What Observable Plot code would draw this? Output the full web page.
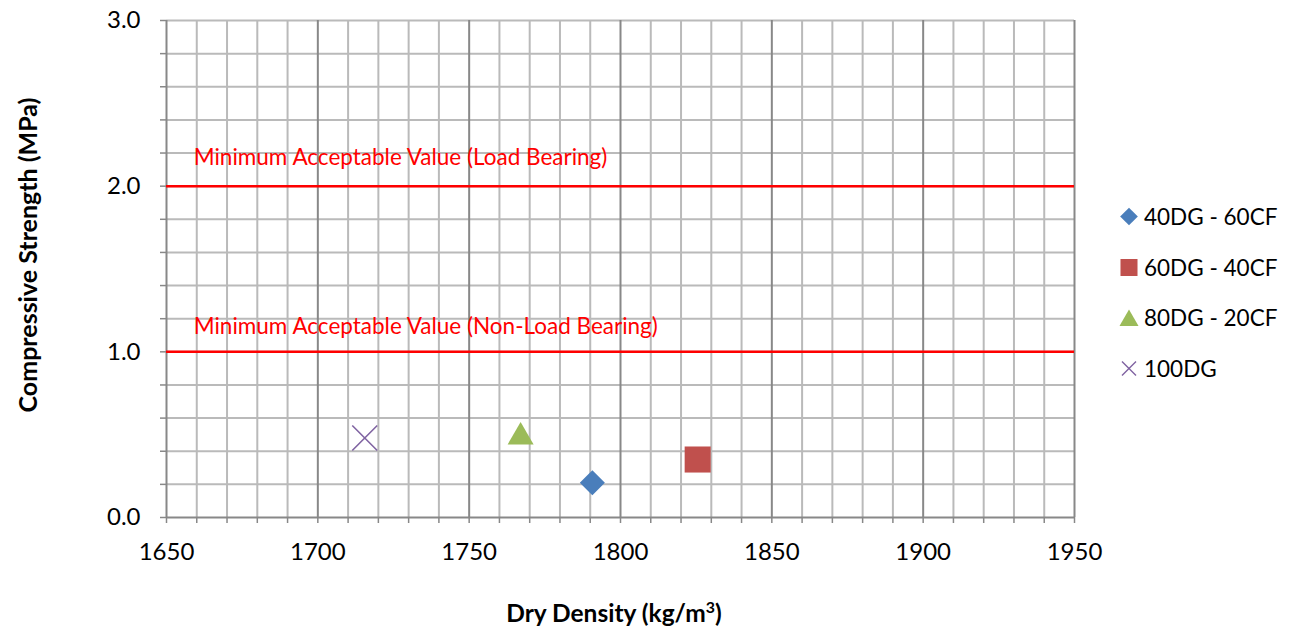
<!DOCTYPE html>
<html>
<head>
<meta charset="utf-8">
<script src="https://cdn.jsdelivr.net/npm/d3@7"></script>
<script src="https://cdn.jsdelivr.net/npm/@observablehq/plot@0.6"></script>
<style>
  html, body { margin: 0; padding: 0; background: #fff; }
  #wrap { position: relative; width: 1294px; height: 628px; font-family: Lato, "Open Sans", sans-serif; }
  #wrap svg.plot { position: absolute; left: 0; top: 0; }
  .ytitle { position: absolute; left: 27px; top: 255px; transform: translate(-50%, -50%) rotate(-90deg); font-weight: bold; font-size: 25px; white-space: nowrap; color: #000; }
  .xtitle { position: absolute; left: 614px; top: 612px; transform: translate(-50%, -50%); font-weight: bold; font-size: 24.5px; white-space: nowrap; color: #000; }
  .legend { position: absolute; left: 1118px; top: 0; }
  .legend .item { position: absolute; left: 0; display: flex; align-items: center; white-space: nowrap; font-size: 22.5px; color: #000; transform: translateY(-50%); }
  .legend svg { margin-right: 4px; }
</style>
</head>
<body>
<div id="wrap"></div>
<script>
// ---- data ----
const seriesNames = ["40DG - 60CF", "60DG - 40CF", "80DG - 20CF", "100DG"];
const dryDensity = [1790.7, 1825.5, 1767.0, 1715.5];
const compressiveStrength = [0.21, 0.35, 0.51, 0.48];
const seriesColors = ["#4A7EBB", "#C0504D", "#9BBB59", "#8064A2"];
const seriesSymbols = ["diamond2", "square", "triangle2", "times"];

const thresholdValues = [2.0, 1.0];
const thresholdLabels = ["Minimum Acceptable Value (Load Bearing)", "Minimum Acceptable Value (Non-Load Bearing)"];
const thresholdLabelY = [2.17, 1.15];
const thresholdLabelX = [1659, 1659];

const xTicks = d3.range(1650, 1951, 10);
const yTicks = d3.range(0, 16).map(i => i / 5);

// ---- styles ----
const symbolR = {"diamond2": 11.3, "square": 14.7, "triangle2": 12.4, "times": 11.4};
const symbolDy = {"diamond2": 0, "square": 0, "triangle2": 4, "times": 0};

const points = seriesNames.map((name, i) => ({
  name, x: dryDensity[i], y: compressiveStrength[i], color: seriesColors[i], symbol: seriesSymbols[i]
}));
const thresholds = thresholdValues.map((v, i) => ({v, label: thresholdLabels[i], lx: thresholdLabelX[i], ly: thresholdLabelY[i]}));

const minorX = xTicks.filter(d => d % 50 !== 0);
const majorX = xTicks.filter(d => d % 50 === 0);

const marks = [
  Plot.ruleY(yTicks.filter(d => d > 0), {y: d => d, stroke: "#bababa", strokeWidth: 2}),
  Plot.ruleX(minorX, {x: d => d, stroke: "#bababa", strokeWidth: 2}),
  Plot.ruleX(majorX, {x: d => d, stroke: "#888888", strokeWidth: 2}),
  Plot.ruleY([0], {y: d => d, stroke: "#888888", strokeWidth: 2}),
  Plot.ruleY(thresholds, {y: "v", stroke: "#ff0000", strokeWidth: 2.5}),
  Plot.text(thresholds, {x: "lx", y: "ly", text: "label", fill: "#ff0000", textAnchor: "start", fontSize: 22.5, lineAnchor: "middle"}),
  ...points.map(p => Plot.dot([p], {
    x: "x", y: "y", symbol: d => d.symbol, r: symbolR[p.symbol], dy: symbolDy[p.symbol],
    ...(p.symbol === "times" ? {stroke: p.color, strokeWidth: 1.6, fill: "none"} : {fill: p.color, stroke: "none"})
  })),
  Plot.axisX({ticks: xTicks, tickSize: 6, tickPadding: 19, tickFormat: d => d % 50 === 0 ? String(d) : "",
    stroke: "#888888", strokeWidth: 1.5, fill: "#000", fontSize: 24}),
  Plot.axisY({ticks: yTicks, tickSize: 6, tickPadding: 20, tickFormat: d => Math.abs(d - Math.round(d)) < 1e-9 ? d.toFixed(1) : "",
    stroke: "#888888", strokeWidth: 1.5, fill: "#000", fontSize: 24})
];

const chart = Plot.plot({
  width: 1294, height: 628,
  marginLeft: 166, marginRight: 220, marginTop: 20, marginBottom: 111,
  x: {domain: [1650, 1950], axis: null},
  y: {domain: [0, 3], axis: null},
  symbol: {type: "identity"},
  style: {fontFamily: "Lato, 'Open Sans', sans-serif", fontSize: "22px", background: "#fff", color: "#000", overflow: "visible"},
  marks
});
chart.classList.add("plot");

const wrap = document.getElementById("wrap");
wrap.appendChild(chart);

const yt = document.createElement("div");
yt.className = "ytitle";
yt.textContent = "Compressive Strength (MPa)";
wrap.appendChild(yt);

const xt = document.createElement("div");
xt.className = "xtitle";
xt.innerHTML = "Dry Density (kg/m<sup style='font-size:0.65em;vertical-align:0.55em;line-height:0'>3</sup>)";
wrap.appendChild(xt);

// legend
const legendY = [216, 267, 317, 368];
const legend = document.createElement("div");
legend.className = "legend";
seriesNames.forEach((name, i) => {
  const item = document.createElement("div");
  item.className = "item";
  item.style.top = legendY[i] + "px";
  const sym = d3.symbol(
    {diamond2: d3.symbolDiamond2, square: d3.symbolSquare, triangle2: d3.symbolTriangle2, times: d3.symbolTimes}[seriesSymbols[i]],
    {diamond2: 200, square: 290, triangle2: 260, times: 130}[seriesSymbols[i]]
  )();
  const isTimes = seriesSymbols[i] === "times";
  const dy = seriesSymbols[i] === "triangle2" ? 3 : 0;
  item.innerHTML = `<svg width="22" height="22" viewBox="-11 -11 22 22"><path d="${sym}" transform="translate(0,${dy})" ${isTimes ? `fill="none" stroke="${seriesColors[i]}" stroke-width="1.4"` : `fill="${seriesColors[i]}"`}/></svg><span>${name}</span>`;
  legend.appendChild(item);
});
wrap.appendChild(legend);
</script>
</body>
</html>
